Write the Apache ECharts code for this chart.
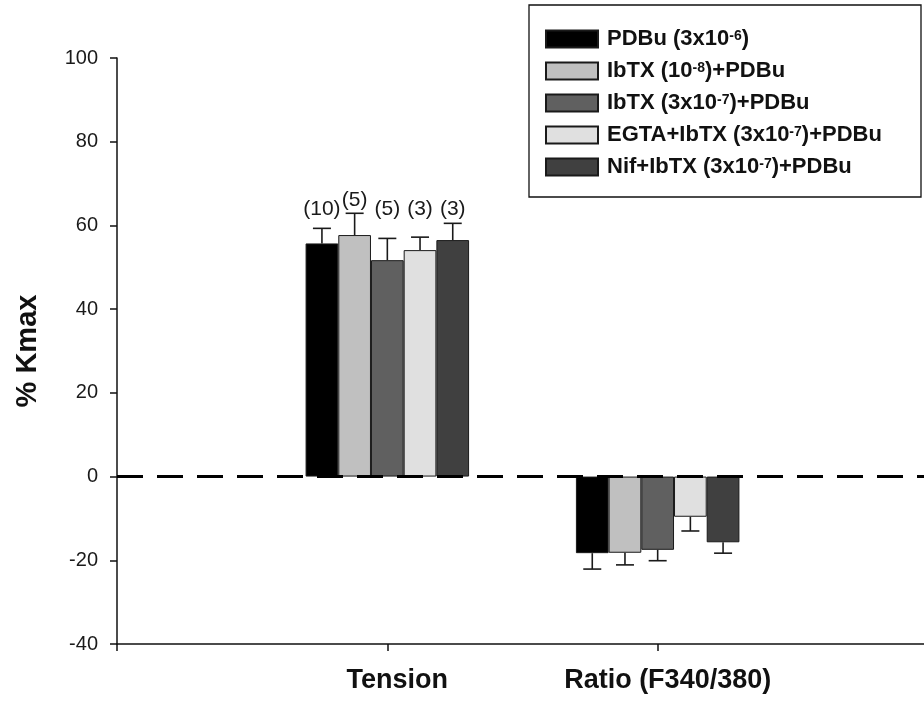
<!DOCTYPE html>
<html><head><meta charset="utf-8">
<script src="https://cdn.jsdelivr.net/npm/echarts@6/dist/echarts.min.js"></script>
<style>html,body{margin:0;padding:0;background:#fff}#c{width:924px;height:702px}</style>
</head><body><div id="c"></div>
<script>
// ---- data ----
const categories = ['', 'Tension', 'Ratio (F340/380)', ''];
const seriesNames = ['PDBu (3x10-6)', 'IbTX (10-8)+PDBu', 'IbTX (3x10-7)+PDBu', 'EGTA+IbTX (3x10-7)+PDBu', 'Nif+IbTX (3x10-7)+PDBu'];
const legendLabels = ['PDBu (3x10{sup|-6})', 'IbTX (10{sup|-8})+PDBu', 'IbTX (3x10{sup|-7})+PDBu', 'EGTA+IbTX (3x10{sup|-7})+PDBu', 'Nif+IbTX (3x10{sup|-7})+PDBu'];
const colors = ['#000000', '#c0c0c0', '#606060', '#e0e0e0', '#404040'];
const tensionMeans = [55.7, 57.7, 51.7, 54.1, 56.5];
const tensionErr = [3.6, 5.2, 5.2, 3.1, 4.0];
const ratioMeans = [-18.3, -18.2, -17.5, -9.6, -15.7];
const ratioErr = [3.8, 2.9, 2.6, 3.4, 2.6];
const tensionN = ['(10)', '(5)', '(5)', '(3)', '(3)'];
const yMin = -40, yMax = 100, yStep = 20;

// ---- chart ----
const FONT = '"Liberation Sans", Arial, sans-serif';
const BAR_W = 32.7;
const chart = echarts.init(document.getElementById('c'), null, {renderer: 'canvas'});

const barSeries = seriesNames.map((name, i) => ({
  name, type: 'bar',
  data: ['-', tensionMeans[i], ratioMeans[i], '-'],
  barWidth: BAR_W, barGap: '0%',
  itemStyle: {color: colors[i], borderColor: '#1a1a1a', borderWidth: 1},
  animation: false, silent: true
}));

const errItems = [];
seriesNames.forEach((n, i) => {
  errItems.push({value: [1, i, tensionMeans[i], tensionErr[i]], label: tensionN[i]});
  errItems.push({value: [2, i, ratioMeans[i], ratioErr[i]], label: null});
});

const errSeries = {
  type: 'custom', z: 6, silent: true, animation: false,
  data: errItems.map(d => d.value),
  encode: {x: 0, y: 2},
  renderItem: (params, api) => {
    const item = errItems[params.dataIndex];
    const cat = api.value(0), si = api.value(1), mean = api.value(2), err = api.value(3);
    const cx = api.coord([cat, 0])[0] + (si - 2) * BAR_W;
    const y0 = api.coord([cat, mean])[1];
    const end = mean >= 0 ? mean + err : mean - err;
    const y1 = api.coord([cat, end])[1];
    const st = {stroke: '#1a1a1a', lineWidth: 1.6};
    const children = [
      {type: 'line', shape: {x1: cx, y1: y0, x2: cx, y2: y1}, style: st},
      {type: 'line', shape: {x1: cx - 9, y1: y1, x2: cx + 9, y2: y1}, style: st}
    ];
    if (item.label) {
      const base = Math.min(api.coord([cat, 61.4])[1], y1 - 3);
      children.push({type: 'text', style: {text: item.label, x: cx, y: base, align: 'center', verticalAlign: 'bottom',
        font: '21px ' + FONT, fill: '#1a1a1a'}});
    }
    return {type: 'group', children};
  },
  markLine: {
    silent: true, symbol: 'none', animation: false,
    label: {show: false},
    lineStyle: {color: '#000', width: 3, type: [26, 14]},
    data: [{yAxis: 0}]
  }
};

chart.setOption({
  backgroundColor: '#fff',
  animation: false,
  grid: {left: 117, top: 58, bottom: 58, width: 811, containLabel: false, outerBoundsMode: 'none'},
  legend: {
    orient: 'vertical', left: 545, top: 28,
    itemWidth: 52, itemHeight: 17, itemGap: 10,
    icon: 'rect', padding: 0,
    data: seriesNames,
    formatter: name => legendLabels[seriesNames.indexOf(name)],
    textStyle: {fontFamily: FONT, fontSize: 22, fontWeight: 'bold', color: '#111', lineHeight: 20, padding: [0, 0, 0, 4],
      rich: {sup: {fontFamily: FONT, fontSize: 14, fontWeight: 'bold', color: '#111', lineHeight: 9, verticalAlign: 'top'}}},
    selectedMode: false
  },
  graphic: [{type: 'rect', shape: {x: 529, y: 5, width: 392, height: 192}, style: {fill: 'none', stroke: '#111', lineWidth: 1.3}, z: 10}],
  xAxis: {
    type: 'category', data: categories, boundaryGap: false,
    axisLine: {onZero: false, lineStyle: {color: '#111', width: 1.5}},
    axisTick: {show: true, length: 7, inside: false, lineStyle: {color: '#111', width: 1.5}},
    axisLabel: {fontFamily: FONT, fontSize: 27, fontWeight: 'bold', color: '#111', margin: 23, interval: 0, padding: [0, 0, 0, 20]},
    splitLine: {show: false}
  },
  yAxis: {
    type: 'value', min: yMin, max: yMax, interval: yStep,
    name: '% Kmax', nameLocation: 'middle', nameGap: 75, nameRotate: 90,
    nameTextStyle: {fontFamily: FONT, fontSize: 29, fontWeight: 'bold', color: '#111'},
    axisLine: {show: true, lineStyle: {color: '#111', width: 1.5}},
    axisTick: {show: true, length: 7, lineStyle: {color: '#111', width: 1.5}},
    axisLabel: {fontFamily: FONT, fontSize: 20, color: '#1a1a1a', margin: 19},
    splitLine: {show: false}
  },
  series: [...barSeries, errSeries]
});
</script></body></html>
